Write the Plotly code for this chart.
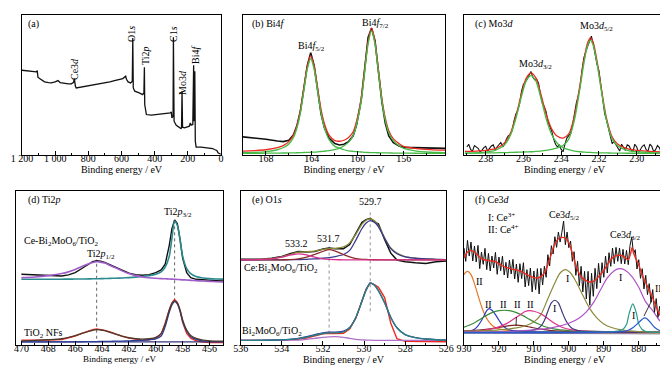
import plotly.graph_objects as go

# ---------------- (a) survey ----------------
survey_be = [1200, 1164, 1114, 1108, 1104, 1094, 1064, 1040, 1024, 1000, 983, 970, 950, 920, 903, 890, 884, 882, 878, 873,
             850, 823, 800, 763, 730, 702, 670, 642, 610, 592, 575, 570, 560, 545, 535, 532, 529, 520, 493, 480,
             472, 465, 462, 460, 455, 450, 420, 380, 330, 305, 300, 296, 289, 287, 283, 270, 241, 238, 235, 232,
             220, 191, 185, 180, 170, 165, 162, 158, 155, 150, 120, 80, 50, 40, 25, 18, 0]
survey_cts = [253, 250, 248, 252, 232, 228, 218, 216, 215, 218, 222, 216, 214, 212, 212, 216, 227, 212, 205, 200,
              202, 204, 206, 208, 212, 215, 218, 222, 226, 228, 235, 226, 218, 215, 220, 350, 200, 190, 185, 182,
              180, 185, 262, 150, 125, 120, 118, 120, 122, 125, 128, 110, 115, 352, 100, 88, 78, 80, 190, 82,
              80, 85, 95, 88, 90, 268, 100, 250, 40, 22, 22, 20, 18, 15, 12, 5, 0]

# ---------------- (b) Bi4f ----------------
bi_be = [170, 169, 168, 167, 166.5, 166, 165.6, 165.3, 165.0, 164.7, 164.4, 164.1, 163.8, 163.5, 163.2, 162.9, 162.5,
         162.0, 161.6, 161.2, 160.8, 160.4, 160.1, 159.7, 159.4, 159.1, 158.8, 158.5, 158.2, 157.9, 157.6, 157.3,
         156.9, 156.4, 156.0, 155, 154, 153, 152.4]
bi_raw = [52, 49, 45, 40, 38, 42, 58, 85, 128, 195, 262, 300, 262, 190, 120, 78, 48, 32, 28, 30, 38, 55, 88, 160,
          252, 345, 372, 335, 245, 155, 92, 55, 35, 25, 21, 20, 19, 18, 18]
bi_fit = [10, 11.5, 14, 20, 26, 38, 57, 85, 129, 195, 259, 291, 260, 197, 133, 90, 57, 41, 39, 42, 50, 67, 99, 167,
          250, 333, 373, 332, 249, 165, 107, 70, 46, 32, 24, 18, 15, 13, 13]
bi_comp1 = [5.1, 6.1, 8.4, 14, 20, 31, 50, 78, 122, 187, 251, 282, 251, 187, 122, 78, 44, 24, 19, 14, 11, 9.3, 8.2,
            7.3, 6.5, 5.9, 5.6, 5.3, 5.1, 4.9, 4.7, 4.5, 4.3, 4.1, 4.0, 3.7, 3.5, 3.3, 3.2]
bi_comp2 = [3.1, 3.4, 3.8, 4.2, 4.4, 4.6, 4.9, 5.1, 5.3, 5.9, 6.3, 6.7, 7.1, 7.8, 8.9, 9.6, 11.4, 14.7, 18.3, 25.6,
            36.5, 56, 89, 158, 242, 325, 365, 325, 242, 158, 100, 64, 40, 25.6, 18.3, 11, 7.4, 6, 5.4]

# ---------------- (c) Mo3d ----------------
mo_be = [239.1, 238.5, 238, 237.5, 237, 236.7, 236.4, 236.1, 235.85, 235.6, 235.35, 235.1, 234.8, 234.5, 234.2, 233.9,
         233.6, 233.3, 233.0, 232.8, 232.6, 232.45, 232.3, 232.1, 231.9, 231.6, 231.3, 231, 230.5, 230, 229.5, 229, 228.5]
mo_comp1 = [4, 5, 7, 12, 28, 55, 105, 170, 215, 230, 215, 170, 105, 58, 32, 20, 14, 10, 8, 7, 6, 6, 5.5, 5, 5, 4.5,
            4.2, 4, 3.7, 3.5, 3.3, 3.2, 3]
mo_comp2 = [4, 4.2, 4.5, 5, 5.5, 6, 6.5, 7, 7.5, 8, 9, 10, 12, 15, 19, 26, 45, 100, 195, 265, 318, 333, 318, 265, 195,
            100, 45, 25, 12, 8, 6, 5, 4.5]
mo_fit = [9, 10, 12, 17, 34, 61, 112, 178, 223, 238, 224, 181, 118, 74, 53, 48, 60, 112, 205, 274, 326, 340, 326, 272,
          202, 106, 51, 30, 17, 12, 10, 8, 7]
mo_raw_be = [239.0, 238.9, 238.8, 238.7, 238.6, 238.5, 238.4, 238.3, 238.2, 238.1, 238.0, 237.9, 237.8, 237.7, 237.6,
             237.5, 237.4, 237.3, 237.2, 237.1, 237.0, 236.9, 236.8, 236.7, 236.6, 236.5, 236.4, 236.3, 236.2, 236.1,
             236.0, 235.9, 235.8, 235.7, 235.6, 235.5, 235.4, 235.3, 235.2, 235.1, 235.0, 234.9, 234.8, 234.7, 234.6,
             234.5, 234.4, 234.3, 234.2, 234.1, 234.0, 233.9, 233.8, 233.7, 233.6, 233.5, 233.4, 233.3, 233.2, 233.1,
             233.0, 232.9, 232.8, 232.7, 232.6, 232.5, 232.4, 232.3, 232.2, 232.1, 232.0, 231.9, 231.8, 231.7, 231.6,
             231.5, 231.4, 231.3, 231.2, 231.1, 231.0, 230.9, 230.8, 230.7, 230.6, 230.5, 230.4, 230.3, 230.2, 230.1,
             230.0, 229.9, 229.8, 229.7, 229.6, 229.5, 229.4, 229.3, 229.2, 229.1, 229.0, 228.9, 228.8, 228.7, 228.6]
mo_raw = [22, 30, 15, 10, 26, 22, 18, 8, 12, 20, 24, 10, 17, 25, 28, 14, 22, 30, 35, 22,
          30, 45, 55, 58, 70, 98, 118, 128, 150, 185, 205, 210, 222, 235, 242, 225, 218, 220, 208, 175,
          150, 140, 125, 95, 80, 68, 45, 30, 22, 28, 15, 8, 30, 48, 55, 62, 85, 118, 150, 170,
          198, 245, 282, 300, 315, 330, 345, 322, 290, 262, 245, 205, 155, 120, 100, 78, 50, 32, 38, 28,
          18, 10, 30, 22, 12, 28, 25, 14, 8, 30, 22, 6, 15, 24, 28, 14, 10, 30, 24, 8,
          14, 26, 20, 6, 12]

# ---------------- (d) Ti2p ----------------
ti_be = [470, 469, 468, 467, 466.5, 466, 465.5, 465, 464.7, 464.4, 464.1, 463.8, 463.4, 463, 462.5, 462, 461.5, 461,
         460.5, 460, 459.6, 459.3, 459, 458.8, 458.6, 458.4, 458.2, 458, 457.7, 457.4, 457, 456.5, 456, 455.5, 455]
ti_top_raw = [215, 213, 210, 210, 213, 220, 232, 245, 252, 255, 254, 250, 243, 235, 225, 218, 214, 212, 214, 220, 228,
              245, 300, 350, 376, 365, 320, 262, 220, 205, 200, 198, 197, 196, 195]
ti_top_p12 = [205, 207, 211, 217, 222, 229, 238, 246, 250, 252, 251, 248, 241, 234, 225, 217, 211, 207, 204.5, 203,
              202, 201.5, 201, 200.5, 200, 199.5, 199, 198.5, 198, 197, 196, 195, 194, 193, 192]
ti_top_p32 = [200, 200, 200.2, 200.4, 200.6, 200.8, 201, 201.3, 201.5, 201.8, 202, 202.3, 202.7, 203.2, 204, 205, 206.5,
              208.5, 211, 215, 222, 236, 268, 322, 372, 360, 318, 268, 232, 217, 208, 204, 202, 201, 200.5]
ti_bot_raw = [20, 19, 20, 22, 26, 32, 40, 47, 51, 53, 52, 49, 44, 38, 31, 26, 22, 20, 21, 25, 38, 70, 110, 130, 140,
              132, 108, 72, 40, 26, 18, 14, 13, 12, 13]
ti_bot_fit = [18, 19, 21, 24, 28, 33, 40, 46, 49, 51, 50, 48, 43, 38, 32, 27, 24, 23, 24, 28, 40, 68, 108, 128, 137,
              130, 110, 80, 50, 34, 25, 20, 18, 17, 17]
ti_bot_p32 = [15, 15, 15, 15, 15, 15, 15.2, 15.4, 15.6, 15.8, 16, 16.2, 16.5, 16.8, 17.2, 17.8, 18.5, 19.5, 21, 24, 32,
              60, 102, 124, 134, 127, 106, 76, 47, 31, 22, 18, 16.5, 15.8, 15.5]
ti_base_be = [470, 455]
ti_base = [15, 15]
ti_peaks = [464.4, 458.6]
ti_guide_lo = [24, 135]
ti_guide_hi = [258, 380]

# ---------------- (e) O1s ----------------
o_be = [536, 535.5, 535, 534.5, 534, 533.6, 533.2, 532.8, 532.4, 532, 531.7, 531.4, 531, 530.7, 530.4, 530.1, 529.9,
        529.7, 529.5, 529.3, 529.0, 528.7, 528.4, 528, 527.5, 527, 526.5, 526]
o_top_raw = [262, 262, 262, 265, 270, 278, 285, 283, 285, 292, 295, 293, 293, 305, 338, 370, 378, 382, 372, 365, 320,
             280, 260, 255, 252, 250, 255, 257]
o_top_env = [261, 261, 262, 264, 269, 276, 283, 284, 286, 291, 293, 294, 298, 310, 335, 365, 376, 380, 375, 360, 325,
             295, 280, 270, 265, 263, 262, 261]
o_top_c1 = [260, 260, 260, 260.3, 260.5, 260.8, 261, 262, 263, 265, 267, 270, 276, 288, 318, 352, 368, 375, 370, 357,
            323, 293, 278, 269, 265, 263, 262, 261]
o_top_c2 = [260, 260, 260, 260.2, 260.5, 261, 263, 268, 276, 285, 290, 286, 276, 269, 264, 262, 261.5, 261, 260.7,
            260.5, 260.3, 260.2, 260, 260, 260, 260, 260, 260]
o_top_c3 = [260.5, 261, 261.5, 263, 268, 274, 278, 275, 268, 263, 261.5, 260.8, 260.5, 260.3, 260.2, 260.1, 260, 260,
            260, 260, 260, 260, 260, 260, 260, 260, 260, 260]
o_bot_raw = [25, 24, 25, 25, 26, 27, 28, 32, 38, 44, 46, 45, 46, 58, 90, 140, 175, 193, 188, 180, 150, 75, 30, 22, 22,
             20, 20, 21]
o_bot_env = [25, 25, 25.5, 26, 26.5, 28, 30, 34, 40, 45, 47, 47, 50, 62, 92, 140, 172, 192, 187, 170, 135, 92, 62, 42,
             33, 29, 27, 26]
o_bot_env2 = [25, 25, 25.3, 25.8, 26.5, 28, 31, 36, 42, 47, 49, 49, 52, 63, 92, 140, 172, 192, 187, 170, 135, 92, 62,
              42, 33, 29, 27, 26]
o_bot_c = [25, 25, 25, 25, 25, 25.5, 26, 28, 31, 34, 35.5, 36, 34, 31, 28, 26.5, 26, 25.5, 25.2, 25, 25, 25, 25, 25,
           25, 25, 25, 25]
o_peaks = [529.7, 531.7]
o_guide_lo = [110, 45]
o_guide_hi = [405, 305]

# ---------------- (f) Ce3d ----------------
ce_raw_be = [930.0, 929.5, 929.0, 928.5, 928.0, 927.5, 927.0, 926.5, 926.0, 925.5, 925.0, 924.5, 924.0, 923.5, 923.0,
             922.5, 922.0, 921.5, 921.0, 920.5, 920.0, 919.5, 919.0, 918.5, 918.0, 917.5, 917.0, 916.5, 916.0, 915.5,
             915.0, 914.5, 914.0, 913.5, 913.0, 912.5, 912.0, 911.5, 911.0, 910.5, 910.0, 909.5, 909.0, 908.5, 908.0,
             907.5, 907.0, 906.5, 906.0, 905.5, 905.0, 904.5, 904.0, 903.5, 903.0, 902.5, 902.0, 901.5, 901.0, 900.5,
             900.0, 899.5, 899.0, 898.5, 898.0, 897.5, 897.0, 896.5, 896.0, 895.5, 895.0, 894.5, 894.0, 893.5, 893.0,
             892.5, 892.0, 891.5, 891.0, 890.5, 890.0, 889.5, 889.0, 888.5, 888.0, 887.5, 887.0, 886.5, 886.0, 885.5,
             885.0, 884.5, 884.0, 883.5, 883.0, 882.5, 882.0, 881.5, 881.0, 880.5, 880.0, 879.5, 879.0, 878.5, 878.0,
             877.5, 877.0, 876.5, 876.0, 875.5, 875.0, 874.5, 874.0, 873.5, 873.0, 872.5]
ce_raw = [290, 250, 313, 266, 308, 251, 296, 248, 298, 228, 278, 241, 289, 225, 274, 221, 266, 230, 277, 211,
          263, 222, 266, 209, 247, 200, 254, 212, 256, 197, 242, 187, 243, 198, 246, 173, 225, 177, 230, 158,
          221, 165, 228, 152, 229, 179, 235, 202, 270, 236, 297, 272, 324, 292, 338, 308, 337, 371, 300, 338,
          291, 311, 250, 279, 208, 250, 177, 235, 158, 220, 137, 220, 118, 214, 145, 229, 168, 244, 185, 246,
          202, 266, 215, 276, 235, 290, 243, 292, 250, 290, 243, 286, 242, 283, 240, 298, 323, 272, 285, 227,
          255, 199, 228, 167, 208, 150, 183, 127, 165, 97, 138, 82, 115, 59, 97, 52]
ce_fit_be = [930, 929, 928, 927, 926, 925, 924, 923, 922, 921, 920, 919, 918, 917, 916, 915, 914, 913, 912, 911, 910,
             909, 908, 907, 906, 905, 904, 903, 902, 901, 900, 899, 898, 897, 896, 895, 894, 893, 892, 891, 890, 889,
             888, 887, 886, 885, 884, 883, 882.3, 881.9, 881.3, 880.7, 880, 879, 878, 877, 876, 875, 874, 873, 872.4]
ce_fit = [260, 278, 283, 278, 268, 258, 254, 252, 251, 249, 243, 236, 232, 229, 226, 224, 221, 216, 210, 205, 201, 200,
          204, 215, 240, 272, 302, 318, 322, 320, 306, 275, 238, 212, 198, 192, 188, 190, 198, 210, 222, 240, 255, 265,
          268, 268, 262, 255, 275, 292, 270, 255, 240, 208, 186, 163, 140, 113, 90, 77, 70]
ce_orange_be = [930, 929.5, 928.9, 928, 927, 926, 925, 924, 923, 922, 921, 920, 918, 915, 910, 900, 890, 880, 872.4]
ce_orange = [210, 217, 220, 210, 183, 148, 115, 88, 70, 58, 51, 47, 43, 40, 38.5, 37, 36, 35.5, 35]
ce_blue1_be = [930, 928, 927, 926, 925, 924, 923.5, 922.8, 922, 921, 920, 919, 918, 917, 915, 912, 905, 890, 872.4]
ce_blue1 = [40, 42, 46, 56, 72, 92, 102, 108, 103, 90, 73, 58, 49, 44, 41, 39, 38, 37, 36]
ce_green_be = [930, 928, 926, 924, 922, 920, 918.5, 917, 915, 913, 911, 909, 907, 904, 900, 895, 885, 872.4]
ce_green = [52, 60, 72, 85, 96, 102, 103, 102, 96, 86, 74, 63, 54, 46, 42, 40, 38, 37]
ce_brown_be = [930, 925, 922, 919, 917, 915, 913, 911, 908, 905, 900, 890, 872.4]
ce_brown = [40, 44, 48, 53, 57, 58, 56, 52, 46, 42, 39, 38, 37]
ce_magenta_be = [930, 925, 922, 920, 918, 916, 914, 912.5, 911.3, 910, 908, 906, 904, 902, 899, 895, 890, 880, 872.4]
ce_magenta = [39, 42, 47, 53, 62, 75, 89, 99, 102, 100, 92, 78, 63, 52, 44, 40, 38.5, 37, 36]
ce_navy_be = [930, 915, 911, 909, 908, 907, 906, 905, 904, 903, 902, 901, 900, 899, 897, 894, 890, 880, 872.4]
ce_navy = [37, 39, 42, 47, 55, 72, 100, 125, 133, 125, 100, 75, 58, 48, 41, 38.5, 37.5, 36.5, 36]
ce_olive_be = [930, 920, 915, 912, 910, 908, 906, 904, 902.5, 901, 899.5, 898, 896, 894, 892, 890, 888, 885, 880, 872.4]
ce_olive = [40, 44, 50, 58, 68, 90, 138, 185, 215, 225, 215, 190, 148, 108, 80, 62, 52, 44, 39, 37]
ce_purple_be = [930, 915, 905, 900, 897, 895, 893, 891, 889, 887, 885.5, 884, 882, 880, 878, 876, 874, 872.4]
ce_purple = [37, 40, 50, 64, 80, 98, 125, 163, 200, 222, 228, 224, 205, 172, 128, 102, 72, 58]
ce_teal_be = [930, 895, 888, 886, 884.5, 883.5, 882.7, 881.7, 880.7, 880, 879, 878, 876, 872.4]
ce_teal = [36, 37, 38, 40, 46, 60, 95, 122, 95, 62, 45, 39, 37, 36]
ce_blue2_be = [930, 890, 885, 883, 881.5, 880, 879, 878.3, 877.5, 876.5, 875.5, 874, 872.4]
ce_blue2 = [36, 37, 39, 43, 52, 66, 76, 80, 76, 64, 52, 42, 38]
ce_base_be = [930, 872.4]
ce_base = [34, 32]

# ---------------- figure ----------------
W, H = 668, 368
FONT = "Liberation Serif"
fig = go.Figure()


def px(xp):
    return xp / W


def py(yp):
    return 1 - yp / H


def add(x, y, ax, color, width=1.1, shape="linear", dash=None):
    fig.add_trace(go.Scatter(x=x, y=y, xaxis="x" + ax, yaxis="y" + ax, mode="lines",
                             line=dict(color=color, width=width, shape=shape, dash=dash, smoothing=0.8),
                             hoverinfo="skip", showlegend=False))


A, B, C, D, E, F = "", "2", "3", "4", "5", "6"

# (a)
add(survey_be, survey_cts, A, "#111111", 1.3)
# (b)
add(bi_be, bi_raw, B, "#111111", 1.6)
add(bi_be, bi_fit, B, "#ee2a1f", 1.3, "spline")
add(bi_be, bi_comp1, B, "#45bb45", 1.3, "spline")
add(bi_be, bi_comp2, B, "#45bb45", 1.3, "spline")
# (c)
add(mo_raw_be, mo_raw, C, "#111111", 1.1)
add(mo_be, mo_fit, C, "#ee2a1f", 1.3, "spline")
add(mo_be, mo_comp1, C, "#45bb45", 1.3, "spline")
add(mo_be, mo_comp2, C, "#45bb45", 1.3, "spline")
# (d)
for xv, lo, hi in zip(ti_peaks, ti_guide_lo, ti_guide_hi):
    add([xv, xv], [lo, hi], D, "#555555", 0.9, dash="dot")
add(ti_be, ti_top_raw, D, "#111111", 1.4)
add(ti_be, ti_top_p32, D, "#2a8a8f", 1.6, "spline")
add(ti_be, ti_top_p12, D, "#a05cc8", 1.6, "spline")
add(ti_be, ti_bot_raw, D, "#ee2a1f", 1.4)
add(ti_base_be, ti_base, D, "#34347a", 1.2)
add(ti_be, ti_bot_p32, D, "#2b3f9a", 1.3, "spline")
add(ti_be, ti_bot_fit, D, "#4d3a2c", 1.3, "spline")
# (e)
for xv, lo, hi in zip(o_peaks, o_guide_lo, o_guide_hi):
    add([xv, xv], [lo, hi], E, "#888888", 0.9, dash="dot")
add(o_be, o_top_raw, E, "#111111", 1.5)
add(o_be, o_top_env, E, "#8a8a38", 1.3, "spline")
add(o_be, o_top_c1, E, "#3a3a90", 1.3, "spline")
add(o_be, o_top_c2, E, "#8b2a2a", 1.3, "spline")
add(o_be, o_top_c3, E, "#d8308c", 1.3, "spline")
add(o_be, o_bot_raw, E, "#ee2a1f", 1.4)
add(o_be, o_bot_c, E, "#b070c8", 1.3, "spline")
add(o_be, o_bot_env2, E, "#3535a8", 1.3, "spline")
add(o_be, o_bot_env, E, "#2a7f80", 1.4, "spline")
# (f)
add(ce_base_be, ce_base, F, "#6a6aa0", 1.0)
add(ce_orange_be, ce_orange, F, "#e47a2a", 1.2, "spline")
add(ce_blue1_be, ce_blue1, F, "#2c3fc0", 1.2, "spline")
add(ce_green_be, ce_green, F, "#3a8c3a", 1.2, "spline")
add(ce_brown_be, ce_brown, F, "#7a2424", 1.2, "spline")
add(ce_magenta_be, ce_magenta, F, "#e0308c", 1.2, "spline")
add(ce_navy_be, ce_navy, F, "#3c3a78", 1.2, "spline")
add(ce_olive_be, ce_olive, F, "#8c8a3c", 1.2, "spline")
add(ce_purple_be, ce_purple, F, "#b050c8", 1.2, "spline")
add(ce_teal_be, ce_teal, F, "#2a9a8a", 1.2, "spline")
add(ce_blue2_be, ce_blue2, F, "#2a5ad0", 1.2, "spline")
add(ce_raw_be, ce_raw, F, "#111111", 1.0)
add(ce_fit_be, ce_fit, F, "#ee2a1f", 1.4, "spline")


# ---------------- axes ----------------
def xaxis(x0, x1, anchor, rng, vals, texts, minor, tsize=10):
    return dict(domain=[px(x0), px(x1)], anchor=anchor, range=rng, tickmode="array", tickvals=vals,
                ticktext=texts, ticks="inside", ticklen=4, tickwidth=1, tickcolor="black", showline=True,
                linecolor="black", linewidth=1, mirror=True, showgrid=False, zeroline=False,
                tickfont=dict(family=FONT, size=10, color="black"), ticklabelstandoff=-6,
                automargin=False,
                title=dict(text="Binding energy / eV", font=dict(family=FONT, size=tsize, color="black"), standoff=3),
                minor=dict(ticks="inside", ticklen=2, dtick=minor, tickcolor="black", showgrid=False))


def yaxis(y0, y1, anchor, rng):
    return dict(domain=[py(y1), py(y0)], anchor=anchor, range=rng, showticklabels=False, ticks="",
                showline=True, linecolor="black", linewidth=1, mirror=True, showgrid=False, zeroline=False,
                automargin=False)


R1T, R1B = 7.3, 146.5
R2T, R2B = 182.5, 336.5

a_ticks = [1200, 1000, 800, 600, 400, 200, 0]
a_labels = ["1 200", "1 000", "800", "600", "400", "200", "0"]
b_ticks = [168, 164, 160, 156]
c_ticks = [238, 236, 234, 232, 230]
d_ticks = [470, 468, 466, 464, 462, 460, 458, 456]
e_ticks = [536, 534, 532, 530, 528, 526]
f_ticks = [930, 920, 910, 900, 890, 880]

fig.update_layout(
    width=W, height=H, margin=dict(l=0, r=0, t=0, b=0), paper_bgcolor="white", plot_bgcolor="white",
    showlegend=False, font=dict(family=FONT, color="black", size=10),
    xaxis=xaxis(14, 213, "y", [1200, 0], a_ticks, a_labels, 100),
    yaxis=yaxis(R1T, R1B, "x", [0, 418]),
    xaxis2=xaxis(235, 437, "y2", [170, 152.4], b_ticks, [str(v) for v in b_ticks], 2),
    yaxis2=yaxis(R1T, R1B, "x2", [0, 410]),
    xaxis3=xaxis(456, 657, "y3", [239.15, 228.5], c_ticks, [str(v) for v in c_ticks], 1),
    yaxis3=yaxis(R1T, R1B, "x3", [0, 406]),
    xaxis4=xaxis(8, 215, "y4", [470.4, 455], d_ticks, [str(v) for v in d_ticks], 1, 9),
    yaxis4=yaxis(R2T, R2B, "x4", [7, 463]),
    xaxis5=xaxis(232.7, 438.3, "y5", [536, 526], e_ticks, [str(v) for v in e_ticks], 1),
    yaxis5=yaxis(R2T, R2B, "x5", [13, 463]),
    xaxis6=xaxis(456, 657.3, "y6", [930, 872.4], f_ticks, [str(v) for v in f_ticks], 5),
    yaxis6=yaxis(R2T, R2B, "x6", [0, 463]),
)

anns = []


def ann(text, x, y, xanchor="center", size=10, angle=0, arrow=None):
    d = dict(text=text, x=px(x), y=py(y), xref="paper", yref="paper", xanchor=xanchor, yanchor="middle",
             showarrow=False, textangle=angle, font=dict(family=FONT, size=size, color="black"))
    if arrow is not None:
        d.update(showarrow=True, x=px(arrow[0]), y=py(arrow[1]), ax=x - arrow[0], ay=y - arrow[1],
                 arrowhead=0, arrowwidth=0.8, arrowcolor="black", standoff=0, startstandoff=6)
    anns.append(d)


# (a)
ann("(a)", 18, 16, "left")
ann("Ce3<i>d</i>", 66, 61, angle=-90)
ann("O1<i>s</i>", 124, 26, angle=-90)
ann("Ti2<i>p</i>", 137, 48, angle=-90)
ann("C1<i>s</i>", 166, 26, angle=-90)
ann("Mo3<i>d</i>", 175, 75, angle=-90)
ann("Bi4<i>f</i>", 187, 47, angle=-90)
# (b)
ann("(b) Bi4<i>f</i>", 242, 16, "left")
ann("Bi4<i>f</i><sub>5/2</sub>", 303, 38)
ann("Bi4<i>f</i><sub>7/2</sub>", 367, 16)
# (c)
ann("(c) Mo3<i>d</i>", 465, 16, "left")
ann("Mo3<i>d</i><sub>3/2</sub>", 527, 56)
ann("Mo3<i>d</i><sub>5/2</sub>", 588, 19)
# (d)
ann("(d) Ti2<i>p</i>", 18, 192, "left")
ann("Ti2<i>p</i><sub>3/2</sub>", 170, 204)
ann("Ce-Bi<sub>2</sub>MoO<sub>6</sub>/TiO<sub>2</sub>", 14, 233, "left")
ann("Ti2<i>p</i><sub>1/2</sub>", 93, 246)
ann("TiO<sub>2</sub> NFs", 14, 325, "left")
# (e)
ann("(e) O1<i>s</i>", 242, 192, "left")
ann("529.7", 362, 193)
ann("531.7", 320, 230)
ann("533.2", 288, 235)
ann("Ce:Bi<sub>2</sub>MoO<sub>6</sub>/TiO<sub>2</sub>", 234, 260, "left")
ann("Bi<sub>2</sub>MoO<sub>6</sub>/TiO<sub>2</sub>", 232, 323, "left")
# (f)
ann("(f) Ce3<i>d</i>", 465, 192, "left")
ann("I: Ce<sup>3+</sup>", 478, 209, "left")
ann("II: Ce<sup>4+</sup>", 478, 221, "left")
ann("Ce3<i>d</i><sub>5/2</sub>", 556, 208)
ann("Ce3<i>d</i><sub>3/2</sub>", 617, 227)
ann("II", 471, 273)
ann("II", 480, 296)
ann("II", 495, 296)
ann("II", 509, 296, arrow=(508, 318))
ann("II", 522, 296)
ann("I", 546, 300)
ann("I", 559, 270)
ann("I", 612, 269)
ann("I", 625, 307)
ann("II", 650, 280, arrow=(636, 308))

fig.update_layout(annotations=anns)
fig.write_html("out.html")
